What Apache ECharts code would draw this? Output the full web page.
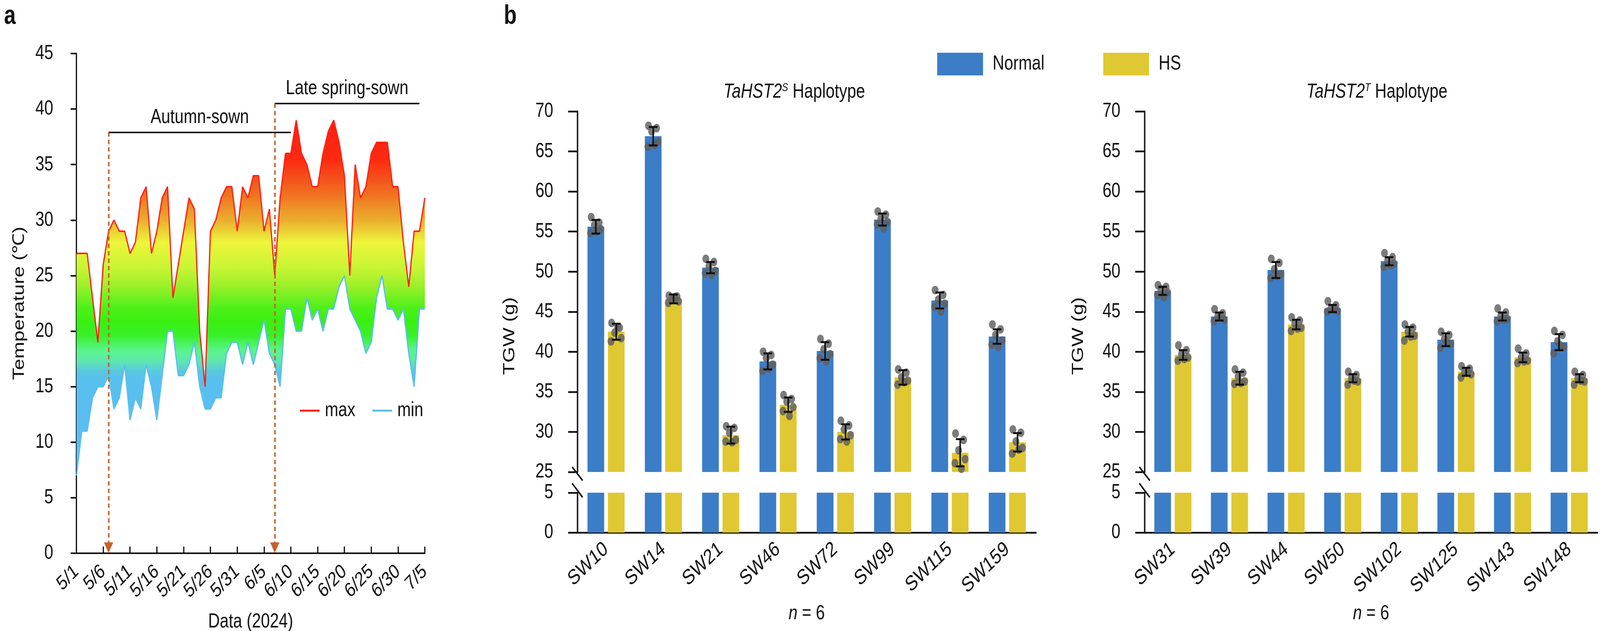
<!DOCTYPE html>
<html lang="en">
<head>
<meta charset="utf-8">
<title>Temperature and TGW</title>
<script src="https://cdn.jsdelivr.net/npm/echarts@6.0.0/dist/echarts.min.js"></script>
<style>
  html, body { margin: 0; padding: 0; background: #fff; overflow: hidden; }
  #main { width: 5171px; height: 1615px; transform-origin: 0 0; }
</style>
</head>
<body>
<div id="main"></div>
<script type="text/javascript">
// ---- panel a: daily max / min temperature, 2024 ----
var dates = ['5/1','5/2','5/3','5/4','5/5','5/6','5/7','5/8','5/9','5/10',
  '5/11','5/12','5/13','5/14','5/15','5/16','5/17','5/18','5/19','5/20',
  '5/21','5/22','5/23','5/24','5/25','5/26','5/27','5/28','5/29','5/30','5/31',
  '6/1','6/2','6/3','6/4','6/5','6/6','6/7','6/8','6/9','6/10',
  '6/11','6/12','6/13','6/14','6/15','6/16','6/17','6/18','6/19','6/20',
  '6/21','6/22','6/23','6/24','6/25','6/26','6/27','6/28','6/29','6/30',
  '7/1','7/2','7/3','7/4','7/5'];
var tMax = [27,27,27,23,19,26,29,30,29,29, 27,28,32,33,27,29,32,33,23,26,
  29,32,31,20,15,29,30,32,33,33,29, 33,32,34,34,29,31,25,32,36,36,
  39,36,35,33,33,36,38,39,37,34, 25,35,32,33,36,37,37,37,33,33, 28,24,29,29,32];
var tMin = [7,11,11,14,15,15,16,13,14,17, 12,14,13,17,15,12,16,20,20,16,
  16,17,19,15,13,13,14,14,18,19,19, 17,19,17,19,21,18,17,15,22,22,
  20,20,23,21,22,20,22,22,24,25, 22,21,20,18,19,23,25,22,22,21, 22,18,15,22,22];

// ---- panel b: TGW (g), n = 6 ----
var catS = ['SW10','SW14','SW21','SW46','SW72','SW99','SW115','SW159'];
var normS = [55.6, 66.9, 50.5, 38.8, 40.1, 56.5, 46.4, 41.9];
var hsS = [42.5, 46.6, 29.6, 33.4, 30.0, 36.8, 27.4, 28.7];
var normSdS = [0.85, 1.15, 0.7, 1.0, 1.1, 0.75, 1.0, 0.9];
var hsSdS = [1.0, 0.55, 1.05, 0.9, 0.95, 0.9, 1.7, 1.15];
var normDotsS = [
  [56.8, 56.1, 55.8, 55.3, 54.8, 55.0],
  [68.2, 67.9, 67.5, 66.2, 65.6, 65.8],
  [51.6, 51.2, 50.7, 50.1, 49.8, 49.6],
  [40.0, 39.6, 39.2, 38.4, 37.6, 37.9],
  [41.6, 41.0, 40.3, 39.7, 39.2, 38.8],
  [57.5, 57.1, 56.6, 56.2, 55.9, 55.4],
  [47.7, 47.1, 46.5, 46.0, 45.6, 45.0],
  [43.4, 42.8, 42.1, 41.4, 40.9, 40.6]
];
var hsDotsS = [
  [43.6, 43.0, 42.4, 41.7, 41.3, 43.1],
  [47.0, 46.9, 46.5, 46.3, 46.1, 46.8],
  [30.7, 30.5, 29.9, 29.0, 28.8, 28.7],
  [34.6, 34.1, 33.8, 33.1, 32.6, 32.0],
  [31.4, 30.8, 30.3, 29.6, 29.1, 28.8],
  [37.8, 37.4, 36.8, 36.4, 35.9, 36.2],
  [29.8, 29.0, 27.7, 26.6, 26.1, 25.4],
  [30.3, 29.9, 28.8, 28.0, 27.3, 27.8]
];

var catT = ['SW31','SW39','SW44','SW50','SW102','SW125','SW143','SW148'];
var normT = [47.6, 44.4, 50.2, 45.4, 51.3, 41.5, 44.4, 41.2];
var hsT = [39.6, 36.7, 43.4, 36.7, 42.5, 37.5, 39.3, 36.7];
var normSdT = [0.5, 0.5, 1.0, 0.45, 0.5, 0.8, 0.5, 1.0];
var hsSdT = [0.6, 0.8, 0.6, 0.5, 0.6, 0.5, 0.6, 0.5];
var normDotsT = [
  [48.3, 48.1, 47.8, 47.4, 47.1, 46.8],
  [45.3, 44.8, 44.4, 44.0, 43.8, 44.3],
  [51.6, 51.1, 50.3, 49.7, 49.2, 49.5],
  [46.3, 45.8, 45.4, 45.1, 45.0, 45.3],
  [52.3, 51.8, 51.4, 51.0, 50.6, 50.8],
  [42.5, 42.1, 41.6, 41.0, 40.5, 41.2],
  [45.4, 44.9, 44.5, 44.1, 43.8, 44.0],
  [42.6, 42.1, 41.3, 40.6, 39.8, 40.8]
];
var hsDotsT = [
  [40.8, 40.2, 39.7, 39.3, 38.9, 39.1],
  [37.8, 37.4, 36.9, 36.3, 36.0, 36.1],
  [44.3, 43.9, 43.5, 43.0, 42.6, 42.9],
  [37.5, 37.1, 36.7, 36.3, 35.9, 36.4],
  [43.4, 43.0, 42.5, 42.0, 41.4, 41.9],
  [38.2, 37.9, 37.5, 37.2, 36.8, 37.4],
  [40.4, 39.8, 39.3, 38.9, 38.6, 38.8],
  [37.5, 37.1, 36.7, 36.3, 35.9, 36.4]
];

var FONT = 'Liberation Sans, Arial, Helvetica, sans-serif';
var INK = '#111';
var BLUE = '#3c7dc8';
var YELLOW = '#e0c832';
var RED = '#ff2010';
var SKY = '#5bbfee';
var ARROW = '#c4622a';

// the figure is laid out on a 5171 x 1615 sheet; fit the sheet to the window
var W = 5171, H = 1615;
var mainEl = document.getElementById('main');
var sx = Math.min(1, window.innerWidth / W), sy = Math.min(1, window.innerHeight / H);
mainEl.style.transform = 'scale(' + sx + ',' + sy + ')';

var chart = echarts.init(mainEl);

// grids
var GA = {left: 247, top: 137, width: 1126, height: 1279};
var GSU = {left: 1866, top: 285, width: 1482, height: 923};
var GSL = {left: 1866, top: 1261, width: 1482, height: 102};
var GTU = {left: 3699, top: 285, width: 1464, height: 923};
var GTL = {left: 3699, top: 1261, width: 1464, height: 102};

// gradient fill by temperature (area bbox runs from hottest max to coldest min)
var hi = Math.max.apply(null, tMax), lo = Math.min.apply(null, tMin);
function off(v) { return Math.max(0, Math.min(1, (hi - v) / (hi - lo))); }
var heatFill = new echarts.graphic.LinearGradient(0, 0, 0, 1, [
  {offset: off(39), color: '#ff1f0f'},
  {offset: off(35.5), color: '#fd2a12'},
  {offset: off(33.5), color: '#f4561c'},
  {offset: off(32), color: '#f07a22'},
  {offset: off(30), color: '#eaae2e'},
  {offset: off(28), color: '#eef53a'},
  {offset: off(25.7), color: '#c8f535'},
  {offset: off(24.2), color: '#a0f02a'},
  {offset: off(22.1), color: '#4ef01a'},
  {offset: off(20.9), color: '#3af010'},
  {offset: off(19.6), color: '#38f02a'},
  {offset: off(18.3), color: '#5af58a'},
  {offset: off(17.3), color: '#5ee8b0'},
  {offset: off(16.4), color: '#5ac8e0'},
  {offset: off(15.7), color: '#58c0ee'},
  {offset: 1, color: '#5bbcf0'}
]);
var tSpan = tMax.map(function (v, i) { return v - tMin[i]; });

function txt(size, extra) {
  var o = {fontSize: size, fontFamily: FONT, color: INK};
  for (var k in extra) o[k] = extra[k];
  return o;
}

function bAxisY(grid, min, max) {
  return {
    type: 'value', gridIndex: grid, min: min, max: max, interval: 5,
    axisLine: {show: true, lineStyle: {color: INK, width: 4.5}},
    axisTick: {show: true, length: 30, lineStyle: {color: INK, width: 4.5}},
    axisLabel: txt(52, {margin: 78}),
    splitLine: {show: false}
  };
}

function bAxisXUpper(grid, cats) {
  return {type: 'category', gridIndex: grid, data: cats, show: false};
}

function bAxisXLower(grid, cats) {
  return {
    type: 'category', gridIndex: grid, data: cats,
    axisLine: {show: true, lineStyle: {color: INK, width: 4.5}},
    axisTick: {show: false},
    axisLabel: txt(54, {rotate: 38, margin: 36, interval: 0}),
    name: '{i|n} = 6', nameLocation: 'middle', nameGap: 182,
    nameTextStyle: txt(52, {rich: {i: txt(52, {fontStyle: 'italic'})}})
  };
}

var OFF = 33;           // half distance between paired bar centres
var JIT = [-15, 11, -5, 16, -17, 4];

function dotItem(params, api) {
  var p = api.coord([api.value(0), api.value(1)]);
  var x = p[0] + api.value(2) * OFF + JIT[api.value(3)];
  return {
    type: 'circle', shape: {cx: x, cy: p[1], r: 11},
    style: {fill: 'rgba(95,95,95,0.82)', stroke: 'none'}
  };
}

function errItem(params, api) {
  var c = api.value(0), m = api.value(1), sd = api.value(2), side = api.value(3);
  var t = api.coord([c, m + sd]), b = api.coord([c, m - sd]);
  var x = t[0] + side * OFF, cap = 14;
  var st = {stroke: INK, lineWidth: 5};
  return {type: 'group', children: [
    {type: 'line', shape: {x1: x, y1: t[1], x2: x, y2: b[1]}, style: st},
    {type: 'line', shape: {x1: x - cap, y1: t[1], x2: x + cap, y2: t[1]}, style: st},
    {type: 'line', shape: {x1: x - cap, y1: b[1], x2: x + cap, y2: b[1]}, style: st}
  ]};
}

function dotData(dn, dh) {
  var out = [];
  dn.forEach(function (arr, i) { arr.forEach(function (v, k) { out.push([i, v, -1, k]); }); });
  dh.forEach(function (arr, i) { arr.forEach(function (v, k) { out.push([i, v, 1, k]); }); });
  return out;
}

function errData(mn, sn, mh, sh) {
  var out = [];
  mn.forEach(function (v, i) { out.push([i, v, sn[i], -1]); });
  mh.forEach(function (v, i) { out.push([i, v, sh[i], 1]); });
  return out;
}

function barPair(xi, yi, n, h) {
  return [
    {name: 'Normal', type: 'bar', xAxisIndex: xi, yAxisIndex: yi, data: n,
     barWidth: 54, barGap: '22%', itemStyle: {color: BLUE}, clip: true, silent: true},
    {name: 'HS', type: 'bar', xAxisIndex: xi, yAxisIndex: yi, data: h,
     barWidth: 54, barGap: '22%', itemStyle: {color: YELLOW}, clip: true, silent: true}
  ];
}

var series = [
  {
    name: 'min', type: 'line', xAxisIndex: 0, yAxisIndex: 0, data: tMin, stack: 'temp',
    symbol: 'none', lineStyle: {color: SKY, width: 4}, itemStyle: {color: SKY}, z: 3,
    markLine: {
      silent: true, animation: false, symbol: ['none', 'none'], label: {show: false},
      data: [
        [{coord: [6, 37.9], lineStyle: {color: INK, type: 'solid', width: 4},
          label: {show: true, formatter: 'Autumn-sown', position: 'insideMiddleTop', distance: 12,
                  fontSize: 52, fontFamily: FONT, color: INK}},
         {coord: [40, 37.9]}],
        [{coord: [37, 40.5], lineStyle: {color: INK, type: 'solid', width: 4},
          label: {show: true, formatter: 'Late spring-sown', position: 'insideMiddleTop', distance: 12,
                  fontSize: 52, fontFamily: FONT, color: INK}},
         {coord: [64, 40.5]}],
        [{coord: [6, 37.9], lineStyle: {color: ARROW, type: [11, 8], width: 5}},
         {coord: [6, 0.5], symbol: 'triangle', symbolSize: [30, 27]}],
        [{coord: [37, 40.5], lineStyle: {color: ARROW, type: [11, 8], width: 5}},
         {coord: [37, 0.5], symbol: 'triangle', symbolSize: [30, 27]}]
      ]
    }
  },
  {
    name: 'max', type: 'line', xAxisIndex: 0, yAxisIndex: 0, data: tSpan, stack: 'temp',
    symbol: 'none', lineStyle: {color: RED, width: 4}, itemStyle: {color: RED},
    areaStyle: {color: heatFill, opacity: 1}, z: 2
  }
];
series = series.concat(barPair(1, 1, normS, hsS), barPair(2, 2, normS, hsS),
                       barPair(3, 3, normT, hsT), barPair(4, 4, normT, hsT));
series.push(
  {type: 'custom', xAxisIndex: 1, yAxisIndex: 1, renderItem: dotItem, data: dotData(normDotsS, hsDotsS), z: 4, silent: true},
  {type: 'custom', xAxisIndex: 1, yAxisIndex: 1, renderItem: errItem, data: errData(normS, normSdS, hsS, hsSdS), z: 5, silent: true},
  {type: 'custom', xAxisIndex: 3, yAxisIndex: 3, renderItem: dotItem, data: dotData(normDotsT, hsDotsT), z: 4, silent: true},
  {type: 'custom', xAxisIndex: 3, yAxisIndex: 3, renderItem: errItem, data: errData(normT, normSdT, hsT, hsSdT), z: 5, silent: true}
);

// axis-break slashes on the TGW axes
function breakMarks(g) {
  var x = g.left, yA = GSU.top + GSU.height, yB = GSL.top;
  var st = {stroke: INK, lineWidth: 4.5};
  return [
    {type: 'rect', shape: {x: x - 6, y: yA + 2, width: 12, height: yB - yA - 4}, style: {fill: '#fff'}, z: 50},
    {type: 'line', shape: {x1: x - 17, y1: yA - 13, x2: x + 17, y2: yA + 22}, style: st, z: 51},
    {type: 'line', shape: {x1: x - 17, y1: yB - 24, x2: x + 17, y2: yB + 12}, style: st, z: 51}
  ];
}

function label(x, y, text, size, extra) {
  var st = {text: text, fontSize: size, fontFamily: FONT, fill: INK, align: 'center', verticalAlign: 'middle'};
  for (var k in extra) st[k] = extra[k];
  return {type: 'text', x: x, y: y, style: st, z: 60};
}

var titleRich = {
  it: {fontStyle: 'italic', fontSize: 52, fontFamily: FONT, fill: INK, color: INK},
  sup: {fontStyle: 'italic', fontSize: 30, fontFamily: FONT, fill: INK, color: INK, verticalAlign: 'top', padding: [0, 0, 22, 0]},
  n: {fontSize: 52, fontFamily: FONT, fill: INK, color: INK}
};

var graphics = [
  label(32, 42, 'a', 68, {fontWeight: 'bold'}),
  label(1649, 42, 'b', 68, {fontWeight: 'bold'}),
  label(2567, 236, '{it|TaHST2}{sup|S}{n| Haplotype}', 52, {rich: titleRich}),
  label(4450, 236, '{it|TaHST2}{sup|T}{n| Haplotype}', 52, {rich: titleRich}),
  {type: 'text', x: 1648, y: 860, rotation: Math.PI / 2, z: 60,
   style: {text: 'TGW (g)', fontSize: 52, fontFamily: FONT, fill: INK, align: 'center', verticalAlign: 'middle'}},
  {type: 'text', x: 3486, y: 860, rotation: Math.PI / 2, z: 60,
   style: {text: 'TGW (g)', fontSize: 52, fontFamily: FONT, fill: INK, align: 'center', verticalAlign: 'middle'}}
].concat(breakMarks(GSU), breakMarks(GTU));

var option = {
  backgroundColor: '#fff',
  animation: false,
  textStyle: {fontFamily: FONT},
  grid: [
    Object.assign({outerBoundsMode: 'none', containLabel: false}, GA),
    Object.assign({outerBoundsMode: 'none', containLabel: false}, GSU),
    Object.assign({outerBoundsMode: 'none', containLabel: false}, GSL),
    Object.assign({outerBoundsMode: 'none', containLabel: false}, GTU),
    Object.assign({outerBoundsMode: 'none', containLabel: false}, GTL)
  ],
  legend: [
    {
      data: [{name: 'max', icon: 'rect', itemStyle: {color: RED}},
             {name: 'min', icon: 'rect', itemStyle: {color: SKY}}],
      left: 964, top: 1020, itemWidth: 64, itemHeight: 5, itemGap: 55,
      selectedMode: false, textStyle: txt(52, {padding: [0, 0, 0, 12]})
    },
    {
      data: ['Normal', 'HS'], icon: 'rect',
      left: 3024, top: 130, itemWidth: 148, itemHeight: 58, itemGap: 190,
      selectedMode: false, textStyle: txt(52, {padding: [0, 0, 0, 26]})
    }
  ],
  xAxis: [
    {
      type: 'category', gridIndex: 0, data: dates, boundaryGap: false,
      axisLine: {show: true, lineStyle: {color: INK, width: 4}},
      axisTick: {show: true, inside: true, length: 17, interval: 4, lineStyle: {color: INK, width: 4}},
      axisLabel: txt(52, {rotate: 40, margin: 40, interval: 4}),
      splitLine: {show: false},
      name: 'Data (2024)', nameLocation: 'middle', nameGap: 150,
      nameTextStyle: txt(52)
    },
    bAxisXUpper(1, catS), bAxisXLower(2, catS),
    bAxisXUpper(3, catT), bAxisXLower(4, catT)
  ],
  yAxis: [
    {
      type: 'value', gridIndex: 0, min: 0, max: 45, interval: 5,
      axisLine: {show: true, lineStyle: {color: INK, width: 4}},
      axisTick: {show: true, length: 19, lineStyle: {color: INK, width: 4}},
      axisLabel: txt(52, {margin: 75}),
      splitLine: {show: false},
      name: 'Temperature (\u2103)', nameLocation: 'middle', nameGap: 158,
      nameTextStyle: txt(52)
    },
    bAxisY(1, 25, 70), bAxisY(2, 0, 5),
    bAxisY(3, 25, 70), bAxisY(4, 0, 5)
  ],
  graphic: graphics,
  series: series
};

chart.setOption(option);
</script>
</body>
</html>
